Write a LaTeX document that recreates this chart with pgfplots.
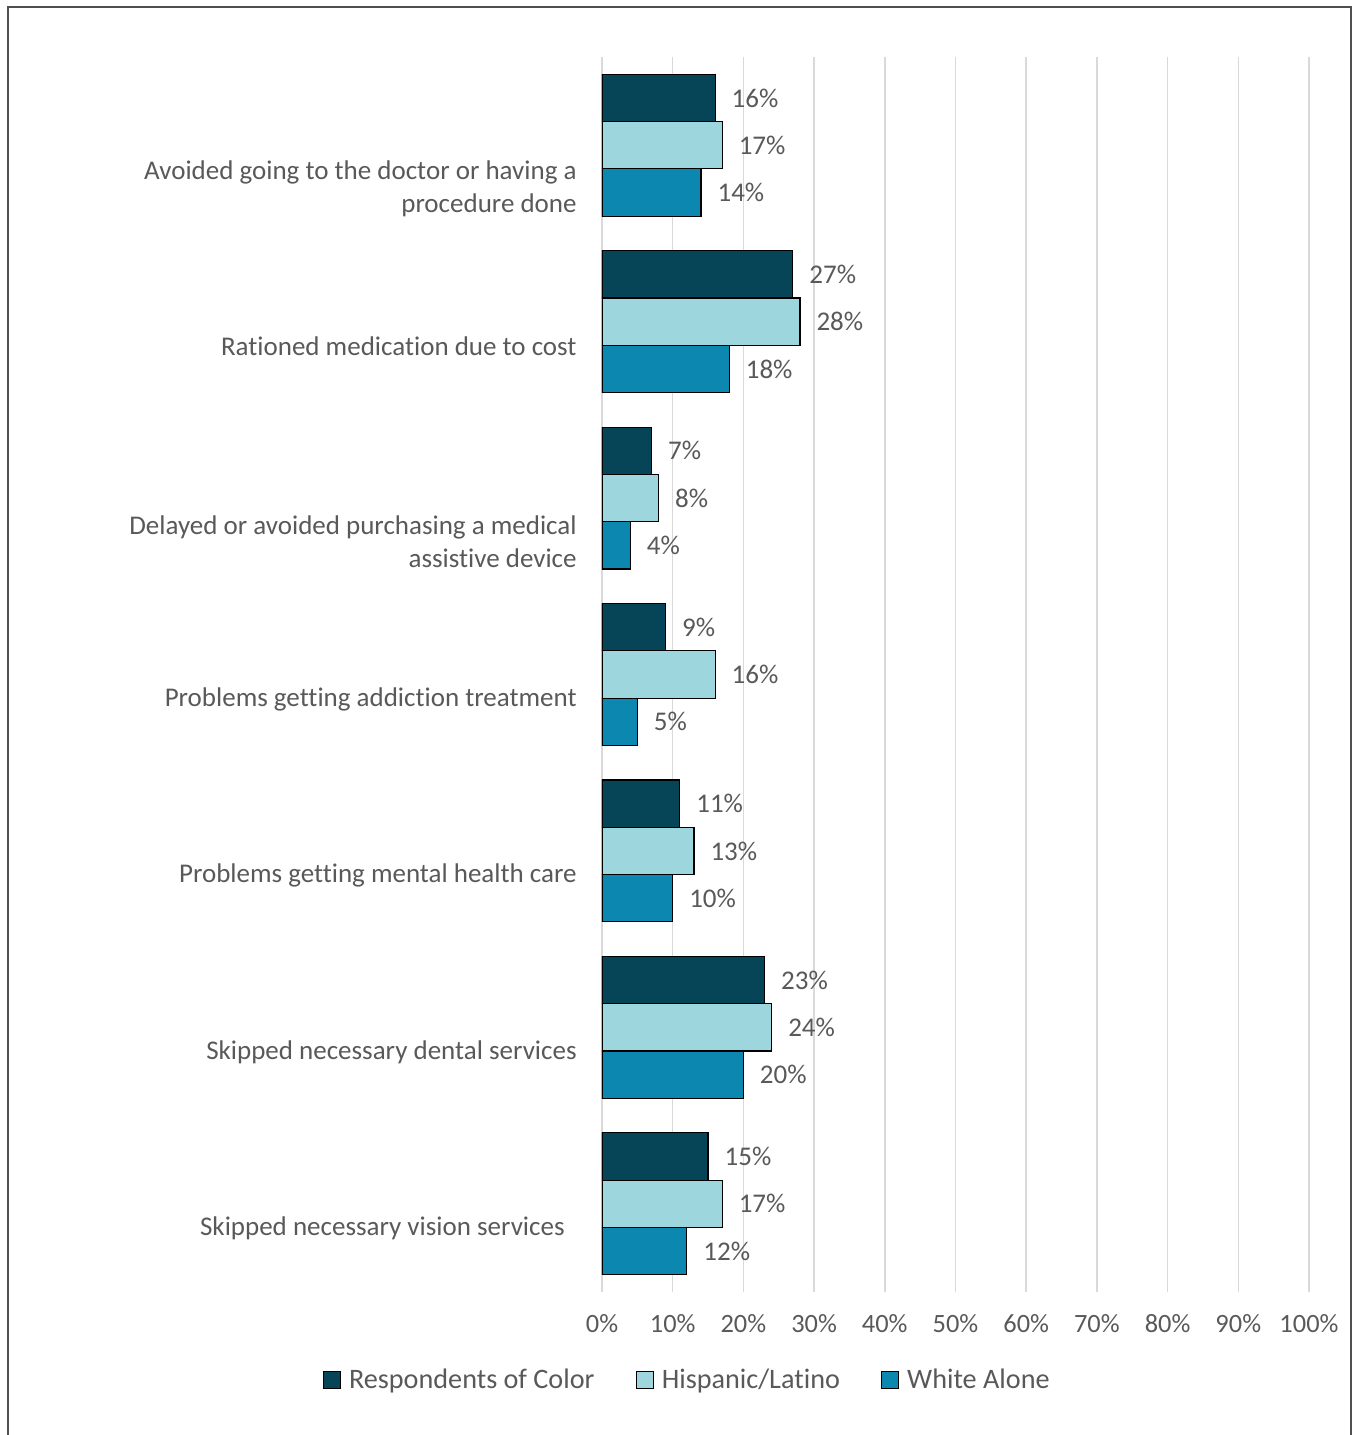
\documentclass[border=0pt]{standalone}
\usepackage{pgfplots}
\pgfplotsset{compat=1.18}
\usepackage{fontspec}
\setmainfont{Carlito}[Ligatures=NoCommon]
\definecolor{cdark}{RGB}{6,68,87}
\definecolor{clight}{RGB}{157,215,221}
\definecolor{cmed}{RGB}{11,135,176}
\definecolor{txt}{RGB}{89,89,89}
\definecolor{grd}{RGB}{217,217,217}
\begin{document}
\begin{tikzpicture}
\useasboundingbox (-301pt,-71.5pt) rectangle (375.5pt,646pt);
\draw[line width=1pt, color=txt!90!black] (-297pt,-71.5pt) -- (-297pt,642.5pt) -- (374.5pt,642.5pt) -- (374.5pt,-71.5pt);
\begin{axis}[
  at={(0pt,0pt)}, anchor=south west,
  scale only axis,
  width=353.5pt, height=617.5pt,
  xbar, bar width=23.65pt,
  xmin=0, xmax=100,
  ymin=-0.5, ymax=6.5,
  xtick={0,10,...,100},
  xticklabels={0\%,10\%,20\%,30\%,40\%,50\%,60\%,70\%,80\%,90\%,100\%},
  ytick={0,1,2,3,4,5,6},
  yticklabels={Skipped necessary vision services\hspace*{6pt},
    Skipped necessary dental services,
    Problems getting mental health care,
    Problems getting addiction treatment,
    \strut\\Delayed or avoided purchasing a medical\\assistive device,
    Rationed medication due to cost,
    \strut\\Avoided going to the doctor or having a\\procedure done},
  yticklabel style={align=right, inner sep=0pt, xshift=-12.5pt, yshift=-12.5pt, font=\fontsize{13.5pt}{16.5pt}\selectfont, text=txt},
  xticklabel style={inner sep=0pt, yshift=-11pt, font=\fontsize{13.2pt}{16pt}\selectfont, text=txt},
  major tick length=0pt,
  axis line style={draw=none},
  xmajorgrids, grid style={grd, line width=0.75pt},
  nodes near coords={\pgfmathprintnumber[assume math mode=true]{\pgfplotspointmeta}\%},
  nodes near coords style={anchor=west, inner sep=0pt, xshift=8pt, font=\fontsize{13.5pt}{16.5pt}\selectfont, text=txt},
  legend columns=3,
  legend style={draw=none, fill=none, at={(0.122,-0.0713)}, anchor=center,
    font=\fontsize{14.1pt}{17pt}\selectfont, text=txt,
    /tikz/every even column/.append style={column sep=18.5pt}},
  legend image code/.code={\draw[#1, draw=black, line width=0.6pt] (0pt,-4.25pt) rectangle (8.5pt,4.25pt); \path (10.5pt,0pt);},
  legend cell align=left,
]
\addplot[fill=cdark, draw=black, line width=0.6pt, bar shift=23.65pt] coordinates {(15,0) (23,1) (11,2) (9,3) (7,4) (27,5) (16,6)};
\addlegendentry{Respondents of Color}
\addplot[fill=clight, draw=black, line width=0.6pt, bar shift=0pt] coordinates {(17,0) (24,1) (13,2) (16,3) (8,4) (28,5) (17,6)};
\addlegendentry{Hispanic/Latino}
\addplot[fill=cmed, draw=black, line width=0.6pt, bar shift=-23.65pt] coordinates {(12,0) (20,1) (10,2) (5,3) (4,4) (18,5) (14,6)};
\addlegendentry{White Alone}
\end{axis}
\end{tikzpicture}
\end{document}
